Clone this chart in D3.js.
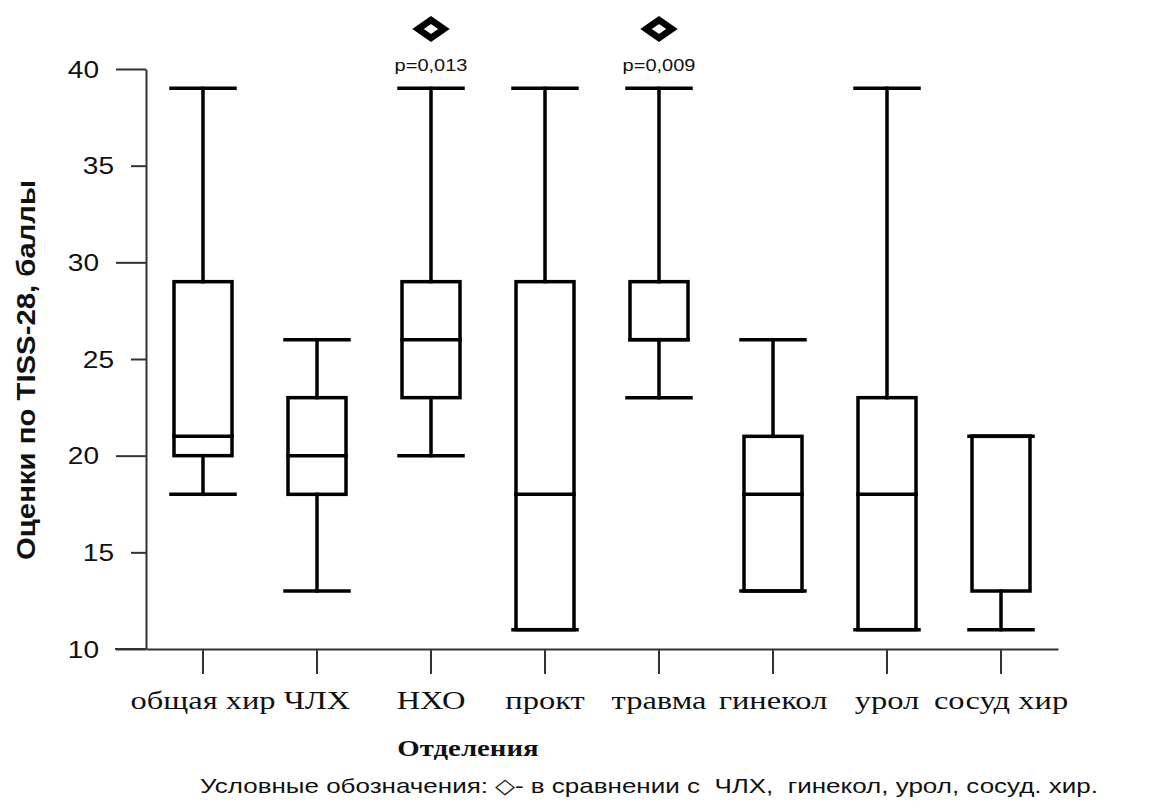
<!DOCTYPE html>
<html>
<head>
<meta charset="utf-8">
<script src="https://cdn.jsdelivr.net/npm/d3@7"></script>
<style>
  body { margin:0; background:#fff; }
  svg { display:block; }
</style>
</head>
<body>
<div id="chart"></div>
<script>
// data
const categories = ["общая хир","ЧЛХ","НХО","прокт","травма","гинекол","урол","сосуд хир"];
const mins    = [18, 13, 20, 11, 23, 13, 11, 11];
const q1s     = [20, 18, 23, 11, 26, 13, 11, 13];
const medians = [21, 20, 26, 18, 26, 18, 18, 21];
const q3s     = [29, 23, 29, 29, 29, 21, 23, 21];
const maxs    = [39, 26, 39, 39, 39, 26, 39, 21];
const yTicks  = [10, 15, 20, 25, 30, 35, 40];
const sigCats = ["НХО", "травма"];
const pLabels = ["p=0,013", "p=0,009"];

const W = 1163, H = 802;
const svg = d3.select("#chart").append("svg").attr("width", W).attr("height", H);

const x = d3.scaleBand().domain(categories).range([146, 1058]).padding(0);
const y = d3.scaleLinear().domain([10, 40]).range([649, 69]);

// stretch text horizontally like the original picture
function stretch(sel, k) {
  sel.each(function() {
    const w = this.getComputedTextLength();
    d3.select(this).attr("textLength", w * k).attr("lengthAdjust", "spacingAndGlyphs");
  });
}

// y axis
const yAx = svg.append("g")
  .attr("transform", "translate(146,0)")
  .call(d3.axisLeft(y).tickValues(yTicks).tickSizeOuter(0));
yAx.select(".domain").attr("stroke", "#333").attr("stroke-width", 2);
yAx.selectAll(".tick line")
  .attr("stroke", "#333").attr("stroke-width", 2)
  .attr("x2", d => d % 10 === 0 ? -30 : -15);
yAx.selectAll(".tick text")
  .attr("x", d => d % 10 === 0 ? -47 : -32)
  .attr("dy", "0.36em")
  .style("font-family", "Arial, 'Liberation Sans', sans-serif")
  .style("font-size", "23px")
  .attr("fill", "#111")
  .call(stretch, 1.22);

// x axis
const xAx = svg.append("g")
  .attr("transform", `translate(0,${y(10)})`)
  .call(d3.axisBottom(x).tickSize(25).tickSizeOuter(0).tickPadding(15));
xAx.select(".domain").attr("stroke", "#333").attr("stroke-width", 2);
xAx.selectAll(".tick line").attr("stroke", "#333").attr("stroke-width", 2);
xAx.selectAll(".tick text")
  .attr("dy", "0.78em")
  .style("font-family", "'Liberation Serif', 'Times New Roman', serif")
  .style("font-size", "25px")
  .attr("fill", "#111")
  .call(stretch, 1.3);
// the left end of the x axis runs past the y axis
svg.append("line")
  .attr("x1", 115).attr("x2", 146).attr("y1", y(10)).attr("y2", y(10))
  .attr("stroke", "#333").attr("stroke-width", 2);

// boxes
const boxW = 58, capW = 64;
const boxes = categories.map((c, i) => ({
  cat: c, min: mins[i], q1: q1s[i], med: medians[i], q3: q3s[i], max: maxs[i]
}));
const g = svg.append("g")
  .attr("stroke", "#000").attr("stroke-width", 3.5).attr("fill", "none")
  .attr("stroke-linecap", "square");
const bx = g.selectAll("g.box").data(boxes).enter().append("g").attr("class", "box")
  .attr("transform", d => `translate(${x(d.cat) + x.bandwidth() / 2},0)`);

bx.filter(d => d.max > d.q3).append("line")
  .attr("y1", d => y(d.q3)).attr("y2", d => y(d.max));
bx.filter(d => d.min < d.q1).append("line")
  .attr("y1", d => y(d.q1)).attr("y2", d => y(d.min));
bx.append("line").attr("x1", -capW / 2).attr("x2", capW / 2)
  .attr("y1", d => y(d.max)).attr("y2", d => y(d.max));
bx.append("line").attr("x1", -capW / 2).attr("x2", capW / 2)
  .attr("y1", d => y(d.min)).attr("y2", d => y(d.min));
bx.append("rect")
  .attr("x", -boxW / 2).attr("width", boxW)
  .attr("y", d => y(d.q3)).attr("height", d => y(d.q1) - y(d.q3));
bx.append("line").attr("x1", -boxW / 2).attr("x2", boxW / 2)
  .attr("y1", d => y(d.med)).attr("y2", d => y(d.med));

// significance markers
const sig = svg.append("g").selectAll("g").data(sigCats.map((c, i) => ({ cat: c, p: pLabels[i] })))
  .enter().append("g")
  .attr("transform", d => `translate(${x(d.cat) + x.bandwidth() / 2},0)`);
sig.append("path")
  .attr("d", "M-13,29 L0,20 L13,29 L0,38 Z")
  .attr("fill", "none").attr("stroke", "#000").attr("stroke-width", 6.5)
  .attr("stroke-linejoin", "miter");
sig.append("text")
  .attr("y", 71).attr("text-anchor", "middle")
  .style("font-family", "Arial, 'Liberation Sans', sans-serif")
  .style("font-size", "16px")
  .attr("fill", "#111")
  .text(d => d.p)
  .call(stretch, 1.25);

// axis titles
svg.append("text")
  .attr("transform", "translate(35,370) rotate(-90)")
  .attr("text-anchor", "middle")
  .style("font-family", "Arial, 'Liberation Sans', sans-serif")
  .style("font-size", "25px").style("font-weight", "bold")
  .attr("fill", "#111")
  .text("Оценки по TISS-28, баллы")
  .attr("textLength", 380).attr("lengthAdjust", "spacingAndGlyphs");

svg.append("text")
  .attr("x", 468).attr("y", 756).attr("text-anchor", "middle")
  .style("font-family", "'Liberation Serif', 'Times New Roman', serif")
  .style("font-size", "24px").style("font-weight", "bold")
  .attr("fill", "#111")
  .text("Отделения")
  .call(stretch, 1.2);

// legend note
svg.append("text")
  .attr("x", 200).attr("y", 793)
  .style("font-family", "Arial, 'Liberation Sans', sans-serif")
  .style("font-size", "21px")
  .attr("fill", "#111")
  .text("Условные обозначения: \u25C7- в сравнении с  ЧЛХ,  гинекол, урол, сосуд. хир.")
  .attr("textLength", 898).attr("lengthAdjust", "spacingAndGlyphs")
  .attr("xml:space", "preserve");
</script>
</body>
</html>
